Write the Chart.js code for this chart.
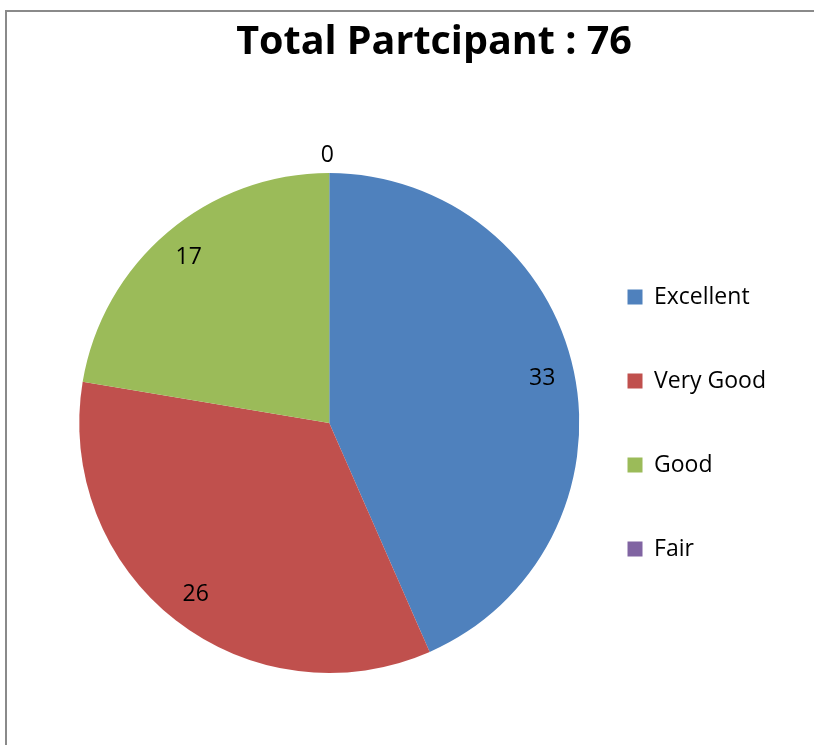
<!DOCTYPE html>
<html>
<head>
<meta charset="utf-8">
<script src="https://cdn.jsdelivr.net/npm/chart.js@4/dist/chart.umd.min.js"></script>
<style>
    body { margin: 0; background: #fff; }
    #marco {
        position: absolute;
        left: 5px; top: 10px;
        width: 820px; height: 760px;
        border-left: 2px solid #8a8a8a;
        border-top: 2px solid #8a8a8a;
    }
    #contenedor { position: absolute; left: 0; top: 0; width: 814px; height: 745px; }
</style>
</head>
<body>
<div id="marco"></div>
<div id="contenedor"><canvas id="chart-pie"></canvas></div>
<script>
/*
    ========================
      GRÁFICA DE PARTICIPANTES
    ========================
*/
const categorias = ['Excellent', 'Very Good', 'Good', 'Fair'];
const valores = [33, 26, 17, 0];
const colores = ['#4F81BD', '#C0504D', '#9BBB59', '#8064A2'];
const titulo = 'Total Partcipant : 76';

// etiquetas de datos tipo Excel (dentro, cerca del borde; fuera si el valor es 0)
const etiquetasPlugin = {
    id: 'etiquetas',
    afterDatasetsDraw(chart) {
        const ctx = chart.ctx;
        const meta = chart.getDatasetMeta(0);
        ctx.save();
        ctx.font = '23px "Open Sans"';
        ctx.fillStyle = '#000';
        ctx.textAlign = 'center';
        ctx.textBaseline = 'middle';
        meta.data.forEach((arc, i) => {
            const p = arc.getProps(['x', 'y', 'startAngle', 'endAngle', 'outerRadius'], true);
            const medio = (p.startAngle + p.endAngle) / 2;
            const r = valores[i] === 0 ? p.outerRadius + 18 : p.outerRadius * 0.87;
            let x = p.x + Math.cos(medio) * r;
            if (valores[i] === 0) x -= 2;
            ctx.fillText(String(valores[i]), x, p.y + Math.sin(medio) * r);
        });
        ctx.restore();
    }
};

let ctxPie = document.getElementById('chart-pie');

let miGrafica = new Chart(ctxPie, {
    type: 'pie',
    data: {
        labels: categorias,
        datasets: [{
            data: valores,
            backgroundColor: colores,
            borderWidth: 0,
            radius: 250,
        }]
    },
    options: {
        responsive: true,
        maintainAspectRatio: false,
        animation: false,
        layout: {
            padding: { left: 92, right: 38, top: 0, bottom: 72 }
        },
        plugins: {
            title: {
                display: true,
                text: titulo,
                color: '#000',
                font: { family: '"Open Sans"', size: 39.5, weight: 'bold', lineHeight: 1.2 },
                padding: { top: 19, bottom: 106.6 }
            },
            legend: {
                position: 'right',
                fullSize: false,
                labels: {
                    color: '#000',
                    font: { family: '"Open Sans"', size: 23 },
                    boxWidth: 15,
                    boxHeight: 15,
                    padding: 61
                }
            },
            tooltip: { enabled: false }
        }
    },
    plugins: [etiquetasPlugin]
});
</script>
</body>
</html>
